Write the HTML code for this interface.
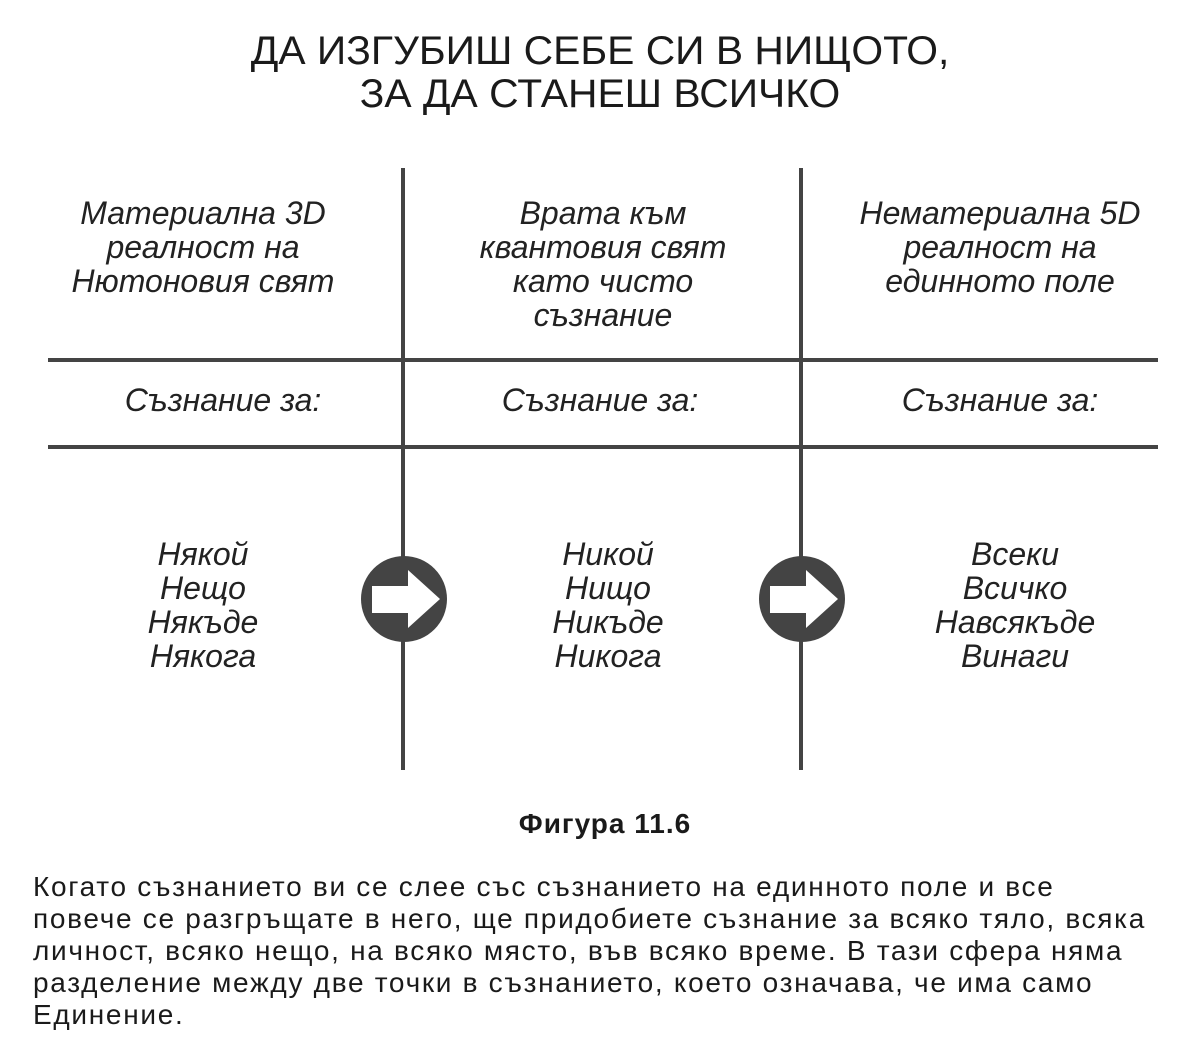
<!DOCTYPE html>
<html><head><meta charset="utf-8"><style>
body{margin:0;width:1200px;height:1056px;background:#fff;position:relative;overflow:hidden;font-family:"Liberation Sans",sans-serif;color:#1a1a1a}
.t{position:absolute;left:0;width:1200px;text-align:center;font-size:40px;line-height:42px;transform:scaleX(1.02)}
.c{position:absolute;width:400px;text-align:center;font-style:italic;font-size:32px;line-height:34px;color:#222}
.p{position:absolute;left:33px;font-size:28px;line-height:32px;letter-spacing:1.7px;white-space:nowrap}
</style></head><body>
<div class="t" style="top:30px">ДА ИЗГУБИШ СЕБЕ СИ В НИЩОТО,</div>
<div class="t" style="top:73px">ЗА ДА СТАНЕШ ВСИЧКО</div>
<svg width="1200" height="1056" style="position:absolute;left:0;top:0">
<g stroke="#444" stroke-width="4">
<line x1="403" y1="168" x2="403" y2="770"/>
<line x1="801" y1="168" x2="801" y2="770"/>
<line x1="48" y1="360" x2="1158" y2="360"/>
<line x1="48" y1="447" x2="1158" y2="447"/>
</g>
<g fill="#444"><circle cx="404" cy="599" r="43"/><circle cx="802" cy="599" r="43"/></g>
<g fill="#fff">
<polygon points="372,586 408,586 408,570 440,599 408,628 408,613 372,613"/>
<polygon points="770,586 806,586 806,570 838,599 806,628 806,613 770,613"/>
</g>
</svg>
<div class="c" style="left:3px;top:196px">Материална 3D<br>реалност на<br>Нютоновия свят</div>
<div class="c" style="left:403px;top:196px">Врата към<br>квантовия свят<br>като чисто<br>съзнание</div>
<div class="c" style="left:800px;top:196px">Нематериална 5D<br>реалност на<br>единното поле</div>
<div class="c" style="left:23px;top:383px">Съзнание за:</div>
<div class="c" style="left:400px;top:383px">Съзнание за:</div>
<div class="c" style="left:800px;top:383px">Съзнание за:</div>
<div class="c" style="left:3px;top:537px">Някой<br>Нещо<br>Някъде<br>Някога</div>
<div class="c" style="left:408px;top:537px">Никой<br>Нищо<br>Никъде<br>Никога</div>
<div class="c" style="left:815px;top:537px">Всеки<br>Всичко<br>Навсякъде<br>Винаги</div>
<div style="position:absolute;left:0;width:1210px;text-align:center;top:808px;font-weight:bold;font-size:28px;letter-spacing:1px">Фигура 11.6</div>
<div class="p" style="top:871px">Когато съзнанието ви се слее със съзнанието на единното поле и все</div>
<div class="p" style="top:903px">повече се разгръщате в него, ще придобиете съзнание за всяко тяло, всяка</div>
<div class="p" style="top:935px">личност, всяко нещо, на всяко място, във всяко време. В тази сфера няма</div>
<div class="p" style="top:967px">разделение между две точки в съзнанието, което означава, че има само</div>
<div class="p" style="top:999px">Единение.</div>
</body></html>
